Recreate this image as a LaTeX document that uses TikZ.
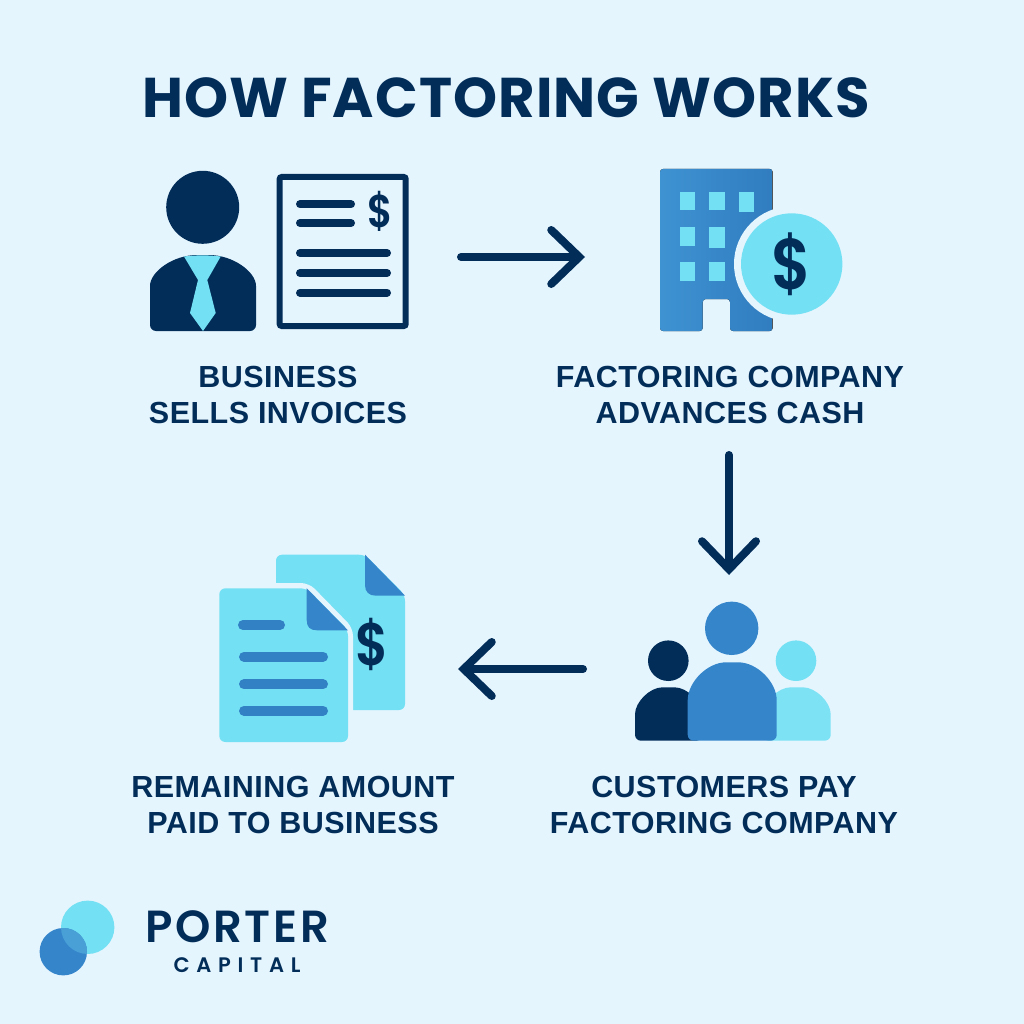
\documentclass[tikz,border=0pt]{standalone}
\usepackage{fontspec}
\setmainfont{Poppins}[UprightFont=* Medium,BoldFont=* SemiBold]
\newfontfamily\headfont{Poppins}[UprightFont=* Bold,LetterSpace=2]
\newfontfamily\capfont{Liberation Sans}[LetterSpace=1.5]
\newfontfamily\porterfont{Poppins}[UprightFont=* SemiBold,LetterSpace=6]
\newfontfamily\logowide{Poppins}[UprightFont=* SemiBold,LetterSpace=32]
\usetikzlibrary{arrows.meta}
\definecolor{paper}{HTML}{E4F5FE}
\definecolor{navy}{HTML}{032D59}
\definecolor{midblue}{HTML}{3585CB}
\definecolor{aqua}{HTML}{74E0F3}
\newcommand{\shoulders}[6]{\fill[#1,rounded corners=6] (#2,#5) -- (#2,{#4+#6}) .. controls (#2,{#4+0.45*#6}) and ({#2+0.22*(#3-#2)},#4) .. ({(#2+#3)/2},#4) .. controls ({#3-0.22*(#3-#2)},#4) and (#3,{#4+0.45*#6}) .. (#3,{#4+#6}) -- (#3,#5) -- cycle;}
\newcommand{\slimusd}{\scalebox{.85}[1]{\$}}
\begin{document}
\begin{tikzpicture}[x=1pt,y=-1pt,
  iconbox/.style = {inner sep=0pt,outer sep=0pt},
  flow/.style = {-{Straight Barb[length=28pt,width=54pt,line cap=round,line join=miter]},line width=8pt,line cap=round,navy},
  caption/.style = {align=center,text=navy,font=\fontsize{30.5}{36}\selectfont\capfont\bfseries},
  money/.style = {text=navy,inner sep=0pt},
  bar/.style = {line width=8pt,line cap=round,navy},
  softbar/.style = {line width=10pt,line cap=round,midblue!95!navy}]
\useasboundingbox (0,0) rectangle (1024,1024);
\fill[paper] (0,0) rectangle (1024,1024);
\node[text=navy,font=\fontsize{56}{70}\selectfont\headfont] (title) at (506,98) {HOW FACTORING WORKS};

\node[iconbox,minimum width=362pt,minimum height=160pt] (seller) at (280,257) {};
\node[iconbox,minimum width=288pt,minimum height=396pt] (bank) at (729,257) {};
\node[iconbox,minimum width=292pt,minimum height=188pt] (crowd) at (729,669) {};
\node[iconbox,minimum width=316pt,minimum height=188pt] (papers) at (300,669) {};

\fill[navy] (202.7,207.3) circle (36.5);
\shoulders{navy}{150}{256}{255}{331}{37}
\fill[aqua] (184,256.5) .. controls (196,255) and (209,255) .. (220.7,256.5) -- (207.3,280) -- (215.7,313) -- (203,331) -- (190,313) -- (198,280) -- cycle;
\draw[navy,line width=6pt,rounded corners=2] (279.7,177) rectangle (405.7,326);
\draw[bar] (300,204.3) -- (351,204.3);
\draw[bar] (300,223) -- (351,223);
\draw[bar] (300,253) -- (387,253);
\draw[bar] (300,273) -- (387,273);
\draw[bar] (300,292.7) -- (387,292.7);
\node[money,font=\fontsize{46}{50}\selectfont\bfseries] (sellerusd) at (380.7,211.7) {\slimusd};

\fill[left color=midblue!85!aqua,right color=midblue!90!navy,rounded corners=3] (660,331) -- (660,169) -- (772.7,169) -- (772.7,331) -- (730,331) -- (730,299) -- (702.7,299) -- (702.7,331) -- cycle;
\foreach \wx/\wy/\wh in {680/192.3/17.7,709.3/192.3/17.7,739/192.3/20,680/226.7/19.3,709.3/226.7/21,680/261.7/19.3,709.3/261.7/19.3}
  \fill[aqua] (\wx,\wy) rectangle ++(15.4,\wh);
\fill[paper] (791.7,264) circle (57.7);
\fill[aqua] (791.7,264) circle (50.7);
\node[money,font=\fontsize{72}{76}\selectfont\bfseries] (bankusd) at (791,264) {\slimusd};

\fill[aqua,rounded corners=6] (276,710) -- (276,554.7) -- (365,554.7) -- (405,595) -- (405,710) -- cycle;
\fill[midblue] (365,554.7) -- (365,585) .. controls (365,592) and (369,595.7) .. (376,595.7) -- (405,595.7) -- cycle;
\fill[paper,rounded corners=8] (214,747) -- (214,583) -- (309,583) -- (353,628) -- (353,747) -- cycle;
\fill[aqua,rounded corners=6] (219.3,742) -- (219.3,588.3) -- (306.7,588.3) -- (348,630) -- (348,742) -- cycle;
\fill[midblue] (306.7,588.3) -- (306.7,620) .. controls (306.7,627) and (310,630.3) .. (317,630.3) -- (348,630.3) -- cycle;
\draw[softbar] (243,625) -- (280,625);
\draw[softbar] (244,656.7) -- (323,656.7);
\draw[softbar] (244,684.3) -- (323,684.3);
\draw[softbar] (244,710.7) -- (323,710.7);
\node[money,font=\fontsize{60}{64}\selectfont\bfseries] (papersusd) at (371.7,644) {\slimusd};

\fill[navy] (668.3,660.7) circle (20.3);
\shoulders{navy}{635}{702}{687.3}{740.7}{33}
\fill[aqua] (796,660.7) circle (20.3);
\shoulders{aqua!92!paper}{763}{830.7}{687.3}{740.7}{33}
\fill[midblue] (731.7,628.3) circle (26.7);
\shoulders{midblue}{687.7}{776.7}{662.3}{740.7}{44}

\fill[aqua] (87.7,927.3) circle (26.7);
\fill[midblue] (63.3,951.7) circle (23.7);
\begin{scope}
\clip (87.7,927.3) circle (26.7);
\fill[midblue!70!aqua] (63.3,951.7) circle (23.7);
\end{scope}
\node[text=navy,font=\fontsize{45}{50}\selectfont\porterfont,inner sep=0pt] (porter) at (237,927) {PORTER};
\node[text=navy,font=\fontsize{21}{24}\selectfont\logowide,inner sep=0pt] (capital) at (237,965.5) {CAPITAL};

\node[caption] (sellertxt) at (278,395) {BUSINESS\\SELLS INVOICES};
\node[caption] (banktxt) at (730,395) {FACTORING COMPANY\\ADVANCES CASH};
\node[caption] (crowdtxt) at (724,805) {CUSTOMERS PAY\\FACTORING COMPANY};
\node[caption] (paperstxt) at (293,805) {REMAINING AMOUNT\\PAID TO BUSINESS};

\draw[flow] (seller) -- (bank);
\draw[flow] (bank) -- (crowd);
\draw[flow] (crowd) -- (papers);
\end{tikzpicture}
\end{document}
